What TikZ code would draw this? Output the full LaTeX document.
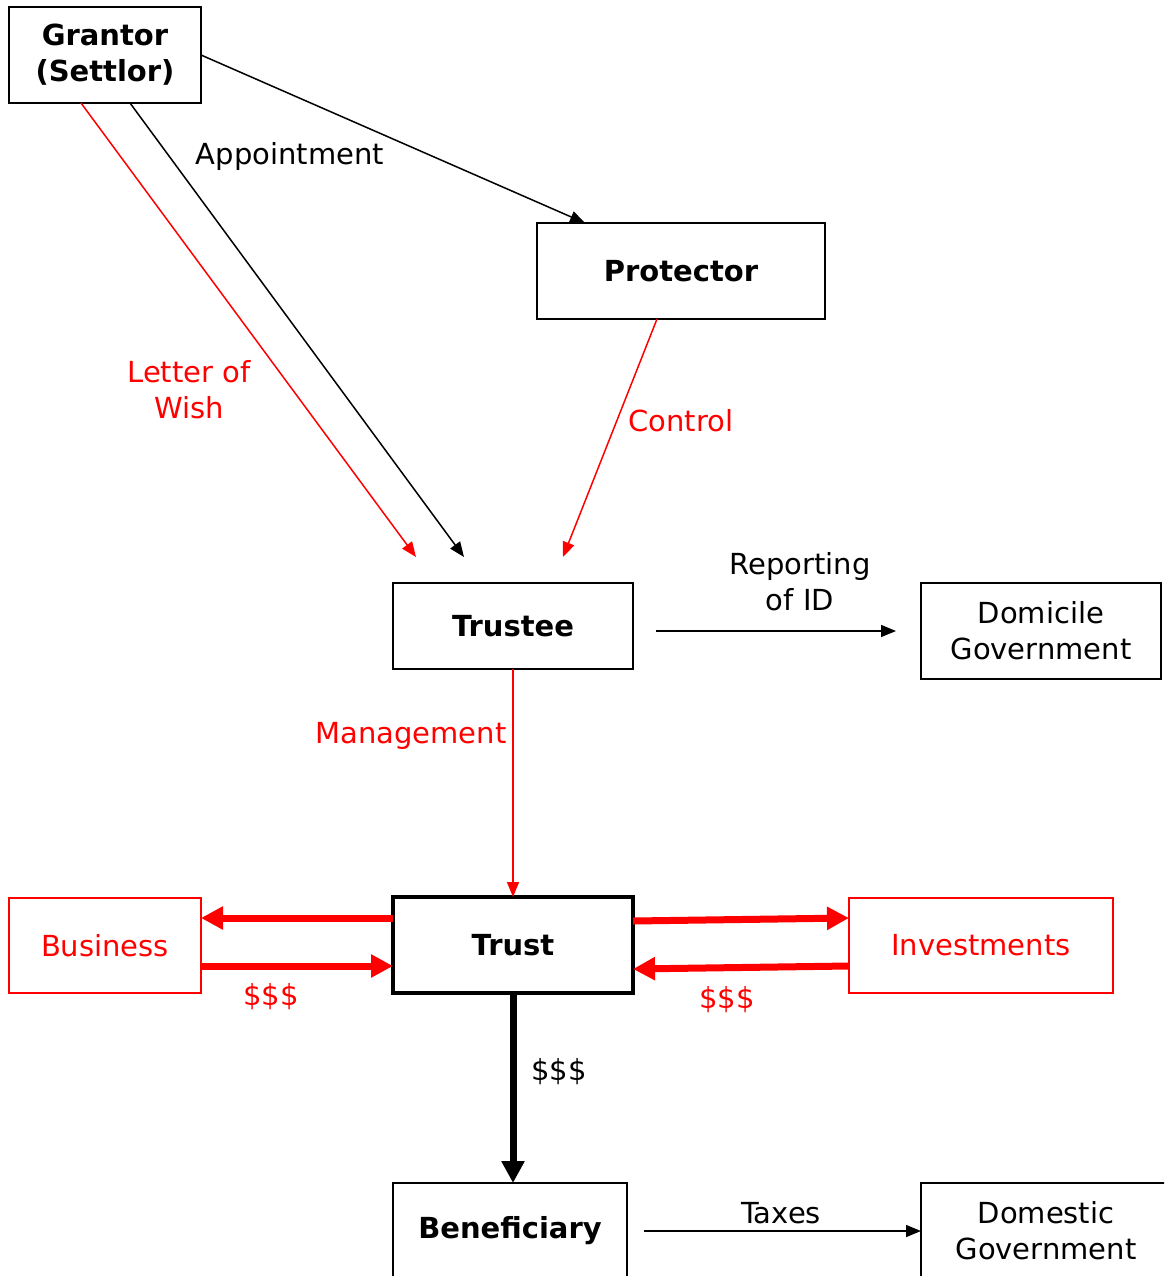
\documentclass[tikz,border=0pt]{standalone}
\usepackage{fontspec}
\setmainfont{DejaVu Sans}
\usetikzlibrary{arrows.meta,calc}
\definecolor{pured}{RGB}{255,0,0}
\tikzset{
  box/.style={draw=black,line width=2pt,rectangle,inner sep=0pt,outer sep=0pt,align=center,font=\fontsize{29}{36}\selectfont},
  redbox/.style={box,draw=pured,text=pured},
  lbl/.style={align=center,inner sep=0pt,font=\fontsize{29}{36}\selectfont},
  redlbl/.style={lbl,text=pured},
  thin/.style={line width=1.5pt,-{Triangle[length=15pt,width=12pt]}},
  thinred/.style={thin,draw=pured,fill=pured},
  fatred/.style={line width=7pt,draw=pured,-{Triangle[length=22pt,width=22pt]}},
  fatblack/.style={line width=7pt,draw=black,-{Triangle[length=22pt,width=22pt]}},
}
\begin{document}
\begin{tikzpicture}[x=1pt,y=-1pt]
\useasboundingbox (0,0) rectangle (1164,1276);
\clip (0,0) rectangle (1164,1276);
% nodes
\node[box,minimum width=192pt,minimum height=96pt] (grantor) at (105,55) {\bfseries Grantor\\\bfseries (Settlor)};
\node[box,minimum width=288pt,minimum height=96pt] (protector) at (681,271) {\bfseries Protector};
\node[box,minimum width=240pt,minimum height=86pt] (trustee) at (513,626) {\bfseries Trustee};
\node[box,minimum width=240pt,minimum height=96pt] (domicile) at (1041,631) {Domicile\\Government};
\node[box,line width=4pt,minimum width=240pt,minimum height=96pt] (trust) at (513,945) {\bfseries Trust};
\node[redbox,minimum width=192pt,minimum height=95pt] (business) at (105,945.5) {Business};
\node[redbox,minimum width=264pt,minimum height=95pt] (invest) at (981,945.5) {Investments};
\node[box,minimum width=234pt,minimum height=96pt] (benef) at (510,1231) {\bfseries Beneficiary};
\node[box,minimum width=250pt,minimum height=96pt] (domestic) at (1046,1231) {Domestic\\Government};
% labels
\node[lbl] (appt) at (290,157) {Appointment};
\node[redlbl] (letter) at (189,390) {Letter of\\Wish};
\node[redlbl] (control) at (681,421) {Control};
\node[lbl] (report) at (800,582) {Reporting\\of ID};
\node[redlbl] (mgmt) at (411,736) {Management};
\node[redlbl] (d1) at (271,997) {\$\$\$};
\node[redlbl] (d2) at (727,1000) {\$\$\$};
\node[lbl] (d3) at (559,1072) {\$\$\$};
\node[lbl] (taxes) at (781,1213) {Taxes};
% connectors
\draw[thin] (grantor.east) -- ($(protector.north west)+(48,0)$);
\draw[thin] ($(grantor.south)+(25,0)$) -- ($(trustee.north)+(-49,-26)$);
\draw[thinred] ($(grantor.south)+(-24,0)$) -- ($(trustee.north)+(-97,-26)$);
\draw[thinred] ($(protector.south)+(-24,0)$) -- ($(trustee.north)+(50,-26)$);
\draw[thin] ($(trustee.east)+(23,5)$) -- ($(domicile.west)+(-25,0)$);
\draw[thinred] (trustee.south) -- (trust.north);
\draw[fatblack] (trust.south) -- (trust.south |- benef.north);
\draw[thin] ($(benef.east)+(17,0)$) -- (domestic.west);
\draw[fatred] ($(trust.west)+(0,-27)$) -- ($(business.east)+(0,-27.5)$);
\draw[fatred] ($(business.east)+(0,20.5)$) -- ($(trust.west)+(0,21)$);
\draw[fatred] ($(trust.east)+(0,-24)$) -- ($(invest.west)+(0,-27.5)$);
\draw[fatred] ($(invest.west)+(0,20.5)$) -- ($(trust.east)+(0,24)$);
\end{tikzpicture}
\end{document}
